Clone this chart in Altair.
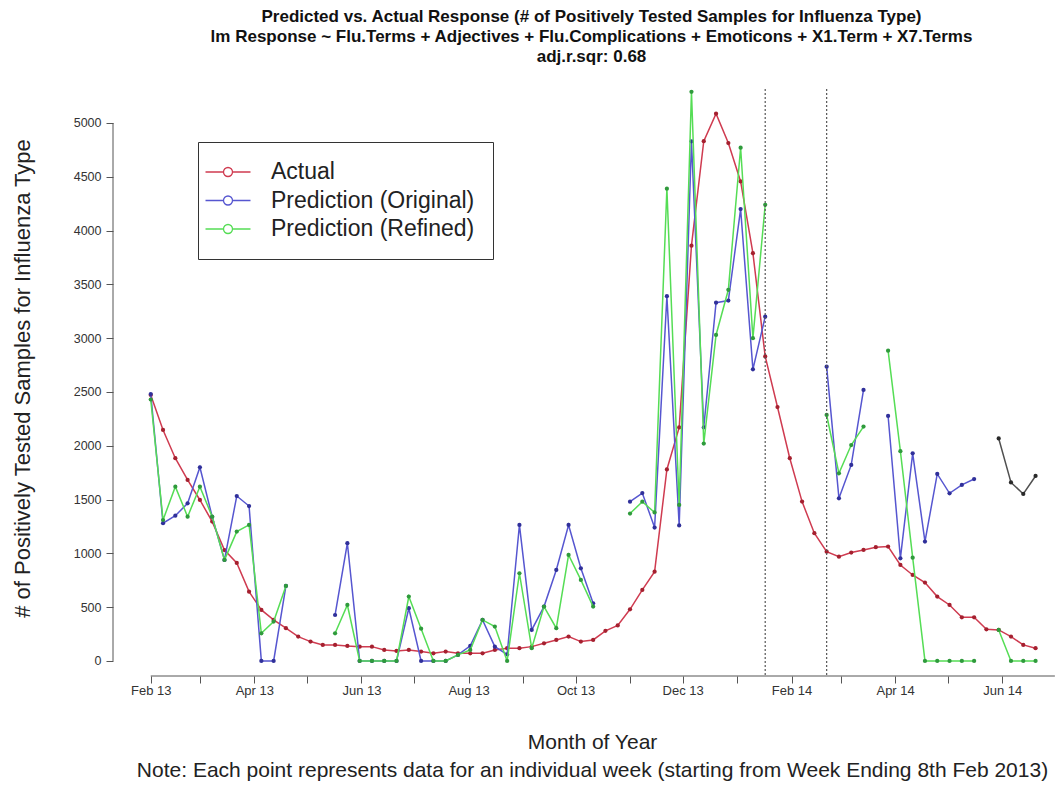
import altair as alt
import pandas as pd
from datetime import date, timedelta

# ---------------- data ----------------
start = date(2013, 2, 1)
N_WEEKS = 73
weeks = [(start + timedelta(days=7 * i)).isoformat() + "T00:00:00" for i in range(N_WEEKS)]

actual = [2472, 2147, 1884, 1682, 1496, 1295, 1030, 911, 644, 474,
          381, 304, 226, 180, 149, 149, 139, 133, 133, 102,
          93, 102, 87, 71, 87, 71, 71, 71, 102, 118,
          118, 133, 164, 195, 226, 180, 195, 280, 330, 480,
          660, 830, 1780, 2170, 3860, 4831, 5087, 4814, 4457, 3790,
          2830, 2360, 1884, 1481, 1187, 1016, 969, 1007, 1032, 1057,
          1063, 892, 799, 728, 598, 520, 406, 406, 294, 288,
          226, 149, 118]

original = [2480, 1280, 1350, 1465, 1800, 1340, 939, 1533, 1440, 0,
            0, 697, None, None, None, 427, 1094, 0, 0, 0,
            0, 490, 0, 0, 0, 56, 140, 381, 133, 60,
            1264, 288, 505, 846, 1264, 861, 536, None, None, 1480,
            1560, 1240, 3390, 1260, 4830, 2170, 3330, 3350, 4200, 2710,
            3200, None, None, None, None, 2735, 1512, 1822, 2519, None,
            2277, 954, 1930, 1109, 1738, 1558, 1636, 1691, None, None,
            None, None, None]

refined = [2430, 1310, 1620, 1341, 1620, 1341, 939, 1202, 1264, 257,
           366, 697, None, None, None, 257, 520, 0, 0, 0,
           0, 598, 300, 0, 0, 56, 102, 381, 319, 0,
           815, 118, 505, 304, 985, 753, 505, None, None, 1370,
           1480, 1380, 4390, 1450, 5290, 2020, 3030, 3450, 4770, 3000,
           4240, None, None, None, None, 2286, 1744, 2007, 2178, None,
           2884, 1950, 960, 0, 0, 0, 0, 0, None, 288,
           0, 0, 0]

unlabeled = [None] * 69 + [2068, 1659, 1552, 1719]

series_names = ["Actual", "Prediction (Original)", "Prediction (Refined)"]
line_colors = ["#cf3b50", "#5656d0", "#55dd55"]
point_colors = ["#a5202f", "#30309a", "#2f9a3c"]

marker_lines = ["2014-01-17T00:00:00", "2014-02-21T00:00:00"]

y_ticks = [0, 500, 1000, 1500, 2000, 2500, 3000, 3500, 4000, 4500, 5000]
month_ticks = [(2013, m) for m in range(2, 13)] + [(2014, m) for m in range(1, 8)]

title_lines = [
    "Predicted vs. Actual Response (# of Positively Tested Samples for Influenza Type)",
    "lm Response ~ Flu.Terms + Adjectives + Flu.Complications + Emoticons + X1.Term + X7.Terms",
    "adj.r.sqr: 0.68",
]
x_title = [
    "Month of Year",
    "Note: Each point represents data for an individual week (starting from Week Ending 8th Feb 2013)",
]
y_title = "# of Positively Tested Samples for Influenza Type"


# ---------------- build tables ----------------
def to_rows(name, values):
    rows, seg, prev = [], 0, False
    for i, v in enumerate(values):
        if v is None:
            if prev:
                seg += 1
            prev = False
            continue
        rows.append({"week": weeks[i], "value": v, "series": name, "seg": f"{name}-{seg}"})
        prev = True
    return rows


rows = []
for nm, vals in zip(series_names, [actual, original, refined]):
    rows += to_rows(nm, vals)
rows += to_rows("Other", unlabeled)
df = pd.DataFrame(rows)

vline_df = pd.DataFrame({"week": marker_lines})
xaxis_df = pd.DataFrame({"week": ["2013-02-01T00:00:00"], "t1": ["2014-07-01T00:00:00"], "value": [-140]})
yaxis_df = pd.DataFrame({"week": ["2013-01-10T12:00:00"], "value": [0], "hi": [5000]})

FONT = "Liberation Sans"
W, H = 941, 587

xscale = alt.Scale(domain=[alt.DateTime(year=2013, month=1, date=10, hours=12),
                           alt.DateTime(year=2014, month=6, date=30, hours=12)])
yscale = alt.Scale(domain=[-140, 5316], nice=False, zero=False)

xaxis = alt.Axis(
    values=[alt.DateTime(year=y, month=m, date=1) for y, m in month_ticks],
    labelExpr="month(datum.value) % 2 == 1 ? timeFormat(datum.value, '%b %y') : ''",
    labelOverlap=False, labelFlush=False, labelBound=False,
    domain=False, grid=False, tickSize=7, tickColor="#555", tickWidth=1,
    labelFontSize=13, labelColor="#333", labelPadding=1, labelFont=FONT,
    title=x_title, titleFontSize=21, titleFontWeight="normal", titleColor="#222",
    titleFont=FONT, titleX=479, titleY=55, titleBaseline="top", titleAlign="center",
    titleLineHeight=28,
)
yaxis = alt.Axis(
    values=y_ticks, format="d", domain=False, grid=False, tickSize=7, tickColor="#555",
    labelFontSize=12.5, labelColor="#333", labelPadding=5, labelFont=FONT,
    title=y_title, titleFontSize=22, titleFontWeight="normal", titleColor="#222",
    titleFont=FONT, titleX=-91, titleY=289, titleAngle=-90, titleBaseline="middle",
    titleAlign="center",
)

legend_symbol = ("M-2,0H-0.4M0.4,0H2M0.4,0A0.4,0.4,0,1,1,-0.4,0"
                 "A0.4,0.4,0,1,1,0.4,0Z")
legend = alt.Legend(
    title=None, orient="none", legendX=85, legendY=53, direction="vertical",
    strokeColor="#333", fillColor="white", padding=18, rowPadding=4.5,
    labelFontSize=23, labelFont=FONT, labelColor="#222", labelOffset=31,
    symbolType=legend_symbol, symbolSize=506, symbolStrokeWidth=1.3,
    labelLimit=500,
)
color_scale = alt.Scale(domain=series_names, range=line_colors)

X = alt.X("week:T", scale=xscale, axis=xaxis)
Y = alt.Y("value:Q", scale=yscale, axis=yaxis)

base = alt.Chart(df)
layers = []
for nm, pc in zip(series_names, point_colors):
    sub = base.transform_filter(alt.datum.series == nm)
    layers.append(sub.mark_line(strokeWidth=1.5).encode(
        x=X, y=Y, detail="seg:N",
        color=alt.Color("series:N", scale=color_scale, legend=legend),
    ))
    layers.append(sub.mark_point(filled=True, size=18, color=pc, opacity=1).encode(x=X, y=Y))

other = base.transform_filter(alt.datum.series == "Other")
layers.append(other.mark_line(strokeWidth=1.5, color="#505050").encode(x=X, y=Y, detail="seg:N"))
layers.append(other.mark_point(filled=True, size=18, color="#2a2a2a", opacity=1).encode(x=X, y=Y))

vlines = alt.Chart(vline_df).mark_rule(strokeDash=[2, 2], color="#555", strokeWidth=1.2).encode(x=X)
xline = alt.Chart(xaxis_df).mark_rule(color="#555", strokeWidth=1).encode(x=X, x2="t1:T", y=Y)
yline = alt.Chart(yaxis_df).mark_rule(color="#555", strokeWidth=1).encode(x=X, y=Y, y2="hi:Q")

chart = alt.layer(*layers, vlines, xline, yline).properties(
    width=W, height=H,
    title=alt.Title(text=title_lines, fontSize=17, fontWeight="bold", font=FONT,
                    color="#111", anchor="middle", dx=8, offset=22, lineHeight=20),
    autosize=alt.AutoSizeParams(type="none"),
    padding={"left": 105, "top": 81, "right": 2, "bottom": 108},
).configure(font=FONT, background="white").configure_view(stroke=None)

chart.save("out.html", embed_options={"renderer": "svg", "actions": False})
